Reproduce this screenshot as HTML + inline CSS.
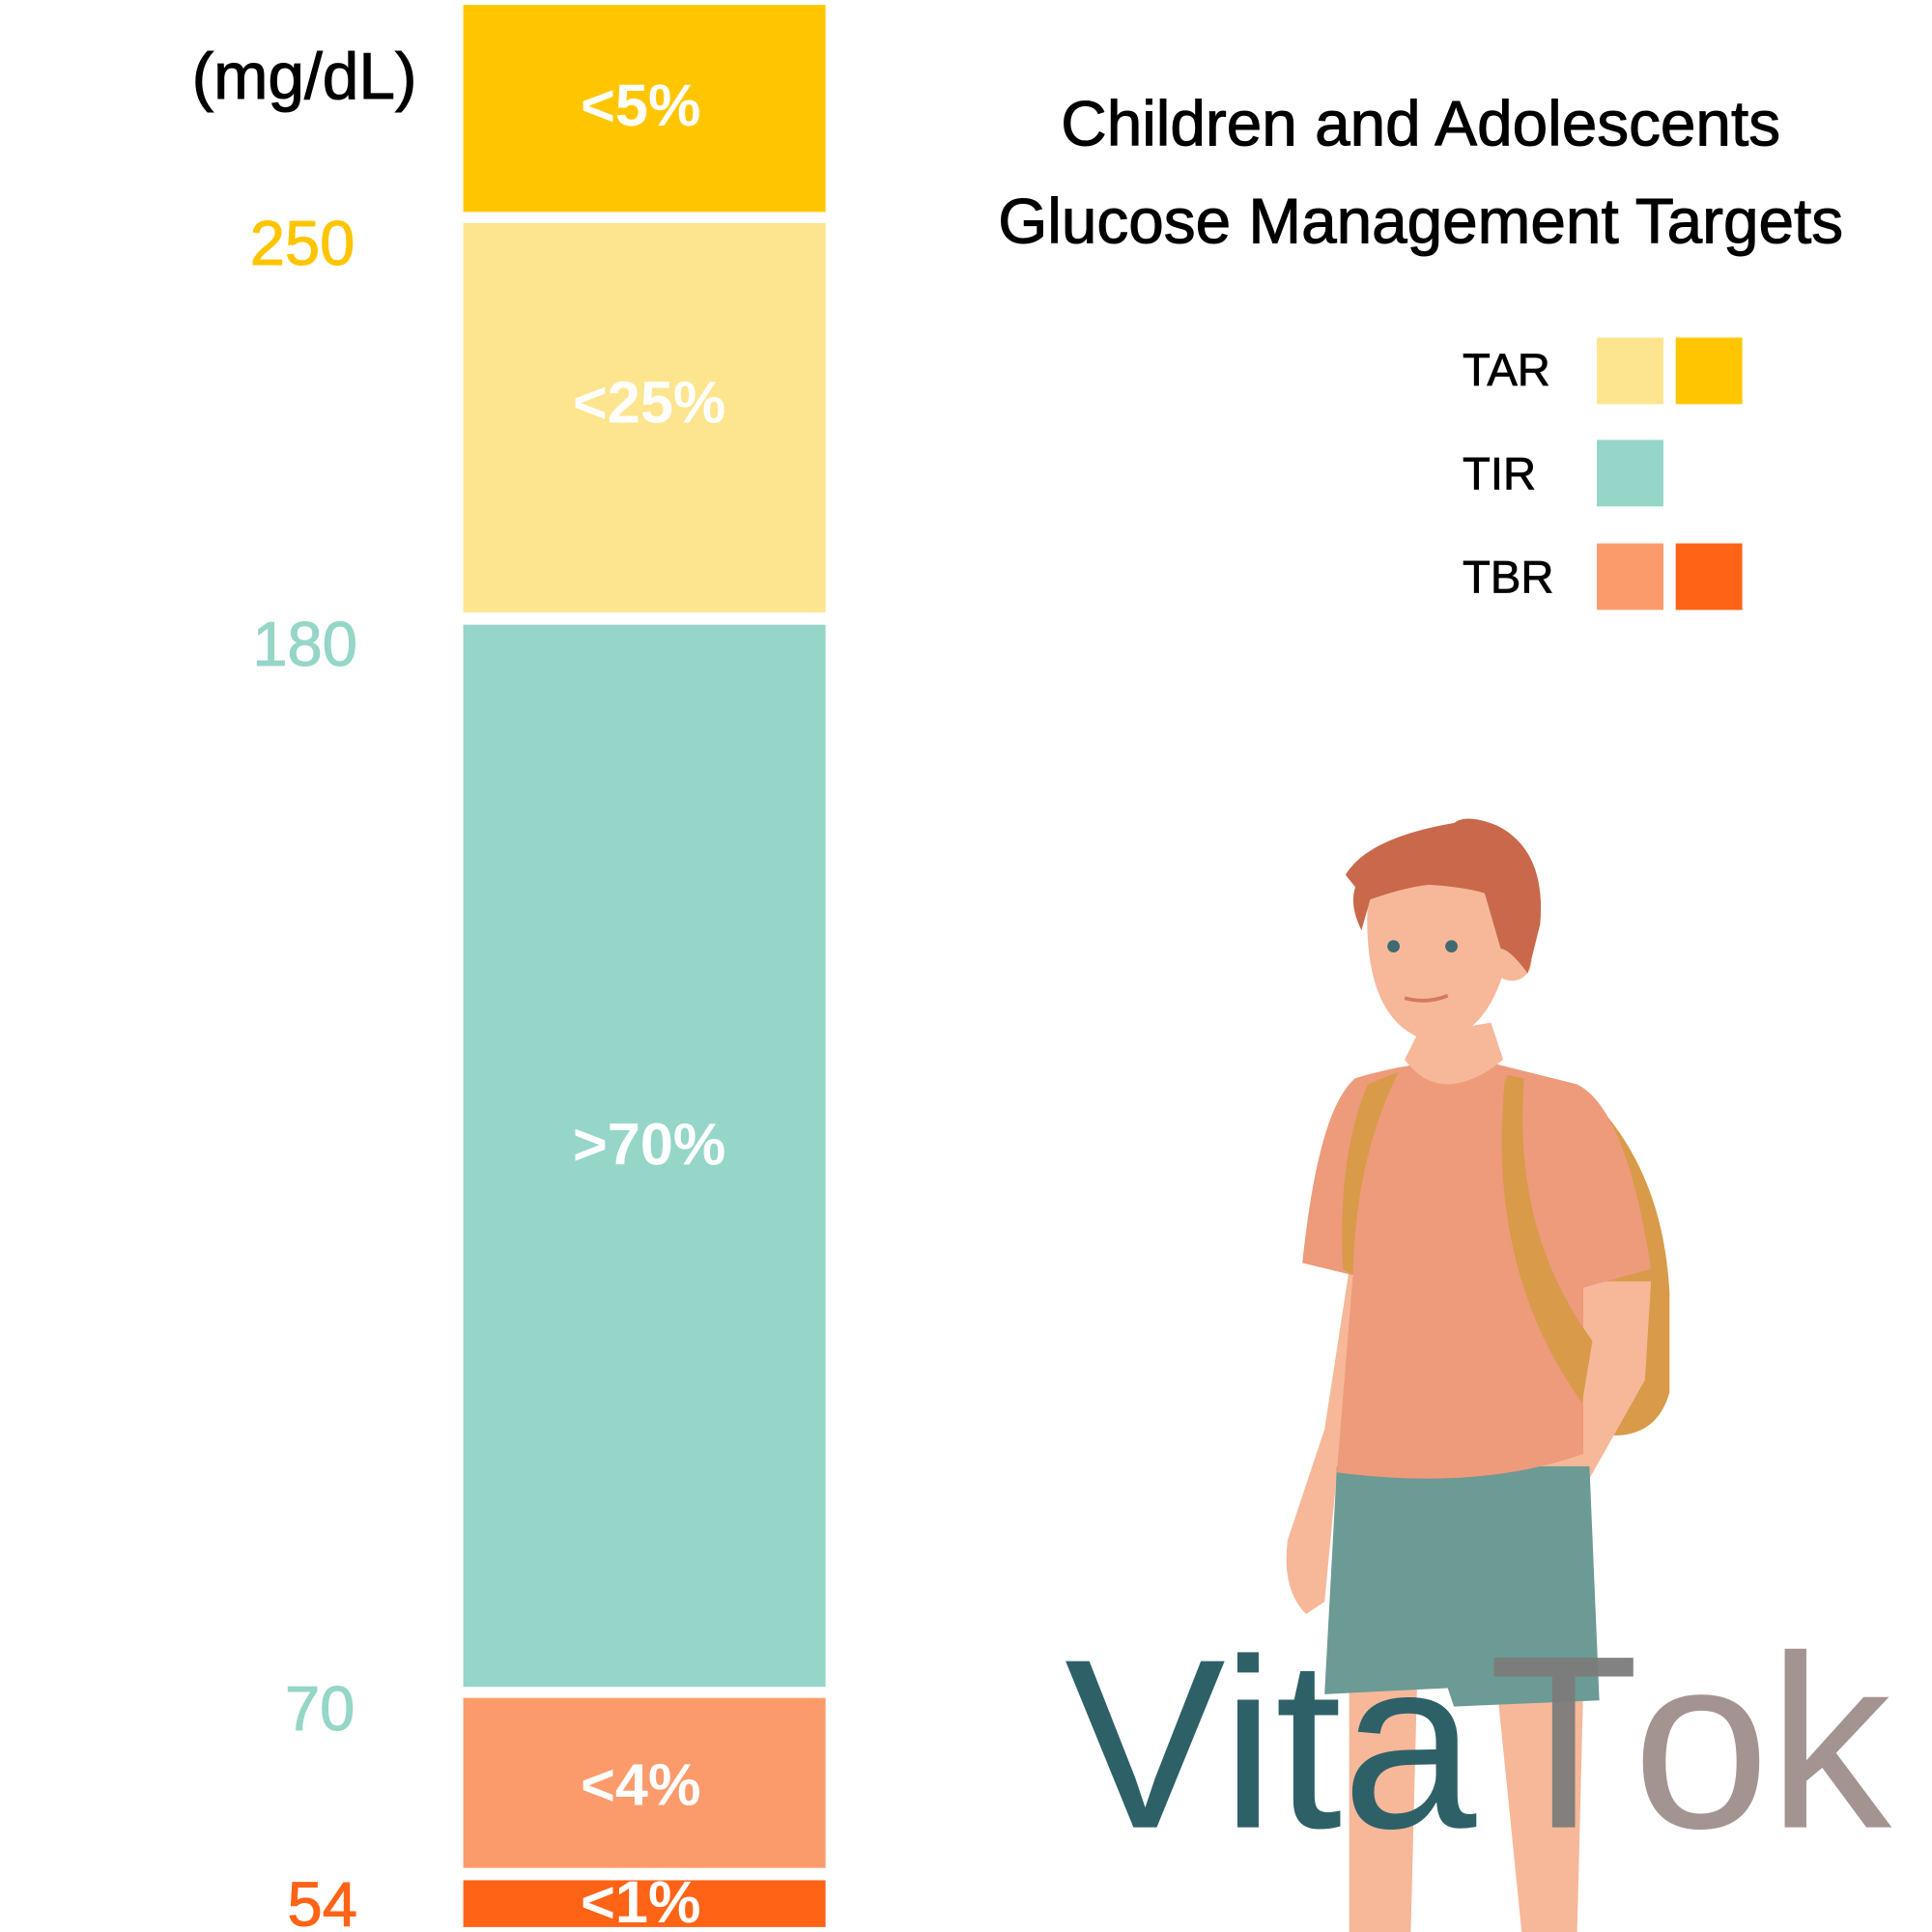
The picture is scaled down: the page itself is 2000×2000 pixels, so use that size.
<!DOCTYPE html>
<html><head><meta charset="utf-8"><style>
html,body{margin:0;padding:0;background:#fff;}
svg{display:block}
text{font-family:"Liberation Sans",sans-serif;}
</style></head><body>
<svg width="2000" height="2000" viewBox="0 0 1568 1568" xmlns="http://www.w3.org/2000/svg">
<rect width="1568" height="1568" fill="#fff"/>
<rect x="376" y="4" width="294" height="168" fill="#ffc600"/>
<rect x="376" y="181" width="294" height="316" fill="#fde58f"/>
<rect x="376" y="507" width="294" height="862" fill="#95d6c8"/>
<rect x="376" y="1378" width="294" height="138" fill="#fb9b6c"/>
<rect x="376" y="1526" width="294" height="38" fill="#ff6316"/>
<g fill="#fff" font-size="48" text-anchor="middle" font-weight="bold">
<text x="520" y="102">&lt;5%</text>
<text x="527" y="343">&lt;25%</text>
<text x="527" y="945">&gt;70%</text>
<text x="520" y="1465">&lt;4%</text>
<text x="520" y="1560">&lt;1%</text>
</g>
<text x="247" y="80" font-size="53" text-anchor="middle" fill="#000" stroke="#000" stroke-width="0.8">(mg/dL)</text>
<g font-size="51" text-anchor="end" stroke-width="0.8">
<text x="288" y="215" fill="#ffc400" stroke="#ffc400">250</text>
<text x="290" y="540" fill="#95d6c8" stroke="#95d6c8">180</text>
<text x="288" y="1404" fill="#95d6c8" stroke="#95d6c8">70</text>
<text x="290" y="1563" fill="#ff6316" stroke="#ff6316">54</text>
</g>
<g font-size="51.5" text-anchor="middle" fill="#000" stroke="#000" stroke-width="0.8">
<text x="1153" y="118">Children and Adolescents</text>
<text x="1153" y="197">Glucose Management Targets</text>
</g>
<g font-size="37" fill="#000" stroke="#000" stroke-width="0.6">
<text x="1187" y="313">TAR</text>
<text x="1187" y="397">TIR</text>
<text x="1187" y="481">TBR</text>
</g>
<rect x="1296" y="274" width="54" height="54" fill="#fde58f"/>
<rect x="1360" y="274" width="54" height="54" fill="#ffc600"/>
<rect x="1296" y="357" width="54" height="54" fill="#95d6c8"/>
<rect x="1296" y="441" width="54" height="54" fill="#fb9b6c"/>
<rect x="1360" y="441" width="54" height="54" fill="#ff6316"/>
<g>
<path d="M1290 890 Q1350 950 1355 1050 L1355 1130 Q1345 1165 1310 1165 L1290 1060 Z" fill="#d99a4a"/>
<path d="M1095 1030 L1075 1160 L1045 1250 Q1040 1290 1060 1310 L1075 1300 L1100 1040 Z" fill="#f6b899"/>
<path d="M1285 1040 L1340 1040 L1335 1120 L1290 1200 L1270 1220 L1250 1200 Z" fill="#f6b899"/>
<path d="M1095 1370 L1150 1370 L1145 1568 L1095 1568 Z" fill="#f6b899"/>
<path d="M1215 1370 L1285 1370 L1280 1568 L1235 1568 Z" fill="#f6b899"/>
<path d="M1085 1190 L1290 1190 L1298 1380 L1180 1385 L1175 1370 L1075 1375 Z" fill="#6c9a95"/>
<path d="M1100 875 Q1150 860 1200 860 L1280 880 Q1320 900 1340 1030 L1285 1045 L1285 1180 Q1200 1210 1085 1195 L1098 1035 L1057 1025 Q1070 900 1100 875 Z" fill="#ed9b7b"/>
<path d="M1140 860 Q1170 900 1220 860 L1210 830 L1150 840 Z" fill="#f6b899"/>
<path d="M1090 1030 Q1085 940 1110 880 L1135 870 Q1100 940 1098 1035 Z" fill="#d99a4a"/>
<path d="M1230 875 Q1220 1000 1285 1090 L1280 1120 Q1215 1020 1228 880 Z" fill="#d99a4a" stroke="#d99a4a" stroke-width="14"/>
<path d="M1110 730 Q1105 830 1160 845 Q1210 845 1225 770 L1210 710 Q1160 700 1110 730 Z" fill="#f6b899"/>
<circle cx="1227" cy="780" r="16" fill="#f6b899"/>
<path d="M1092 710 Q1110 680 1180 668 Q1190 660 1215 670 Q1255 690 1250 750 L1240 790 Q1225 770 1218 770 L1205 725 Q1190 720 1160 718 Q1140 720 1112 730 L1105 755 Q1095 735 1100 720 Z" fill="#c9684a"/>
<circle cx="1131" cy="768" r="5" fill="#3f6a72"/>
<circle cx="1178" cy="768" r="5" fill="#3f6a72"/>
<path d="M1140 810 Q1158 815 1175 808" stroke="#d77860" stroke-width="3" fill="none"/>
</g>
<text x="864" y="1483" font-size="196" fill="#2e6068">Vita</text>
<text x="1208" y="1483" font-size="200" fill="#7c7c7c" opacity="0.95">T</text>
<text x="1325" y="1483" font-size="200" fill="#a08f8c" opacity="0.95" textLength="210" lengthAdjust="spacing">ok</text>
</svg>
</body></html>
